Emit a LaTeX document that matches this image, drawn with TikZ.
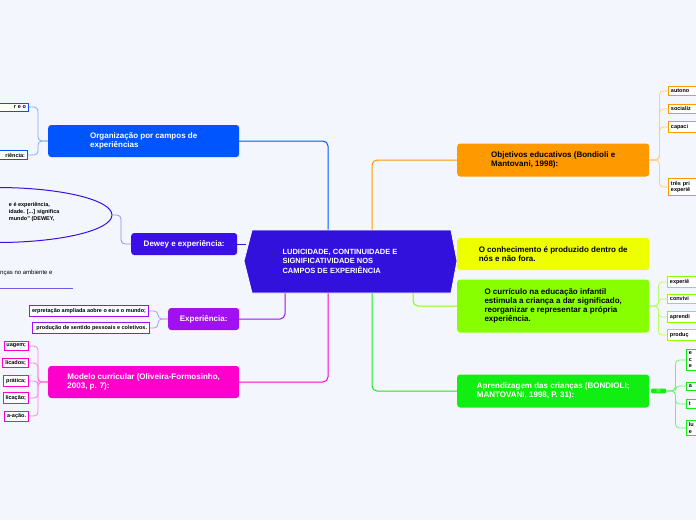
\documentclass[tikz,border=0pt]{standalone}
\usepackage{fontspec}
\setmainfont{Liberation Sans}
\usepackage{tikz}
\usetikzlibrary{positioning, calc, shapes.geometric}
\definecolor{bg}{HTML}{F3F6FD}
\definecolor{cmain}{HTML}{3311DD}
\definecolor{corg}{HTML}{0055FF}
\definecolor{cdew}{HTML}{3B10E8}
\definecolor{cexp}{HTML}{A010F0}
\definecolor{cmod}{HTML}{FF00CC}
\definecolor{cobj}{HTML}{FF9900}
\definecolor{ccon}{HTML}{EEFF00}
\definecolor{ccur}{HTML}{88FF00}
\definecolor{capr}{HTML}{11EE11}
\tikzset{
  topic/.style={rectangle, rounded corners=3pt, font=\bfseries\fontsize{8}{9}\selectfont, align=left, inner xsep=8pt, text=white, anchor=west},
  leaf/.style={rectangle, draw, fill=white, line width=0.9pt, font=\bfseries\fontsize{5.5}{6.5}\selectfont, align=left, inner sep=2.5pt, text=black},
  link/.style={line width=1pt, rounded corners=5pt},
  sublink/.style={line width=0.8pt, rounded corners=4pt}
}
\begin{document}
\begin{tikzpicture}[x=1pt,y=-1pt]
\fill[bg] (0,0) rectangle (696,520);
\useasboundingbox (0,0) rectangle (696,520);
\clip (0,0) rectangle (696,520);
% connectors of the main topic
\draw[link, corg] (328,232) |- (239,141);
\draw[link, cdew] (246,244) -- (237,244);
\draw[link, cexp] (285,292) |- (239,319);
\draw[link, cmod] (328,292) |- (239,382);
\draw[link, cobj] (372,232) |- (457,160);
\draw[link, ccon] (455,254) -- (457,254);
\draw[link, ccur] (413,292) |- (457,306);
\draw[link, capr] (372,292) |- (457,391);
% main topic
\fill[cmain, draw=white, line width=0.8pt] (252,230) -- (451,230) -- (457,261) -- (451,293) -- (252,293) -- (244,261) -- cycle;
\node[font=\bfseries\fontsize{7.5}{9.5}\selectfont, text=white, align=left] (c) at (340,261) {LUDICIDADE, CONTINUIDADE E\\SIGNIFICATIVIDADE NOS\\CAMPOS DE EXPERIÊNCIA};
% left topics
\node[topic, fill=corg, minimum width=191pt, minimum height=32pt] (org) at (48,141) {Organização por campos de\\experiências};
\node[topic, fill=cdew, minimum width=106pt, minimum height=22pt] (dew) at (131,244) {Dewey e experiência:};
\node[topic, fill=cexp, minimum width=71pt, minimum height=22pt] (exp) at (168,319) {Experiência:};
\node[topic, fill=cmod, minimum width=191pt, minimum height=32pt] (mod) at (48,382) {Modelo curricular (Oliveira-Formosinho,\\2003, p. 7):};
% right topics
\node[topic, fill=cobj, text=black, minimum width=192pt, minimum height=33pt] (obj) at (457,160) {Objetivos educativos (Bondioli e\\Mantovani, 1998):};
\node[topic, fill=ccon, text=black, minimum width=192pt, minimum height=32pt] (con) at (457,254) {O conhecimento é produzido dentro de\\nós e não fora.};
\node[topic, fill=ccur, text=black, minimum width=192pt, minimum height=53pt] (cur) at (457,306) {O currículo na educação infantil\\estimula a criança a dar significado,\\reorganizar e representar a própria\\experiência.};
\node[topic, fill=capr, minimum width=192pt, minimum height=33pt] (apr) at (457,391) {Aprendizagem das crianças (BONDIOLI;\\MANTOVANI, 1998, P. 31):};
\node[rectangle, rounded corners=1pt, fill=capr, text=white, font=\fontsize{5}{5}\selectfont, inner sep=1pt, minimum width=15pt, anchor=west] (tag) at (651,391) {$\equiv$};
% leaves of Organização
\node[leaf, draw=corg, text width=60pt, align=right, anchor=east] (o1) at (29,107) {r e o\\ };
\node[leaf, draw=corg, text width=60pt, align=right, anchor=east] (o2) at (28,155) {riência:};
\draw[sublink, corg!50] (org.west) -- ++(-10,0) |- (o1.east);
\draw[sublink, corg!50] (org.west) -- ++(-10,0) |- (o2.east);
% leaves of Dewey
\node[ellipse, draw=cdew, line width=1pt, minimum width=230pt, minimum height=55pt] (d1) at (-3,215) {};
\node[font=\bfseries\fontsize{5.5}{7}\selectfont, align=left, anchor=east] (d1t) at (63,212) {e é experiência,\\idade. [...] significa\\mundo" (DEWEY,};
\node[font=\fontsize{6}{7}\selectfont, anchor=west, inner sep=1pt] (d2) at (-1,273) {nças no ambiente e};
\draw[cdew!70, line width=0.8pt] (-5,288) -- (73,288);
\draw[sublink, cdew!50] (dew.west) -- ++(-10,0) |- (d1.east);
% leaves of Experiência
\node[leaf, draw=cexp, anchor=east] (e1) at (149,311) {erpretação ampliada aobre o eu e o mundo;};
\node[leaf, draw=cexp, anchor=east] (e2) at (150,328) {\ produção de sentido pessoais e coletivos.};
\draw[sublink, cexp!50] (exp.west) -- ++(-10,0) |- (e1.east);
\draw[sublink, cexp!50] (exp.west) -- ++(-10,0) |- (e2.east);
% leaves of Modelo curricular
\foreach \t/\y [count=\i] in {uagem;/346, licados;/363, prática;/381, licação;/398, a-ação./416}
  {\node[leaf, draw=cmod, anchor=east] (m\i) at (29,\y) {\t};
   \draw[sublink, cmod!50] (mod.west) -- ++(-10,0) |- (m\i.east);}
% leaves of Objetivos
\foreach \t/\y [count=\i] in {autono/91, socializ/109, capaci/127}
  {\node[leaf, draw=cobj, anchor=west, text width=40pt] (b\i) at (668,\y) {\t};
   \draw[sublink, cobj!50] (obj.east) -- ++(10,0) |- (b\i.west);}
\node[leaf, draw=cobj, anchor=west, text width=40pt] (b4) at (668,187) {três pri\\experiê};
\draw[sublink, cobj!50] (obj.east) -- ++(10,0) |- (b4.west);
% leaves of currículo
\foreach \t/\y [count=\i] in {experiê/282, convivi/299, aprendi/317, produç/335}
  {\node[leaf, draw=ccur, anchor=west, text width=40pt] (u\i) at (667,\y) {\t};
   \draw[sublink, ccur!60] (cur.east) -- ++(9,0) |- (u\i.west);}
% leaves of Aprendizagem
\node[leaf, draw=capr, anchor=west, text width=30pt] (a1) at (686,360) {e\\c\\e};
\node[leaf, draw=capr, anchor=west, text width=30pt] (a2) at (686,386) {a};
\node[leaf, draw=capr, anchor=west, text width=30pt] (a3) at (686,404) {t};
\node[leaf, draw=capr, anchor=west, text width=30pt] (a4) at (686,428) {lu\\e};
\foreach \i in {1,...,4}
  \draw[sublink, capr!60] (tag.east) -- ++(9,0) |- (a\i.west);
\end{tikzpicture}
\end{document}
